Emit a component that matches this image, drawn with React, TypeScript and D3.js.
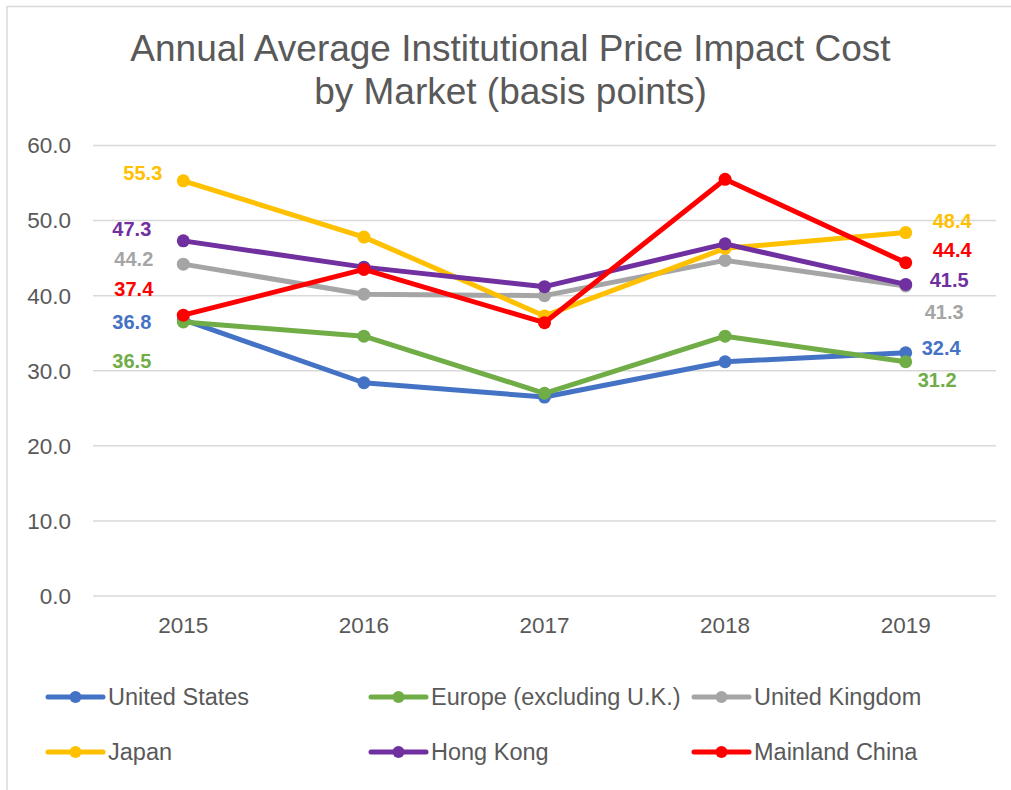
import React from "react";
import * as d3 from "d3";

const years = ["2015", "2016", "2017", "2018", "2019"];
const seriesNames = ["United States", "Europe (excluding U.K.)", "United Kingdom", "Japan", "Hong Kong", "Mainland China"];
const unitedStates = [36.8, 28.4, 26.5, 31.2, 32.4];
const europe = [36.5, 34.6, 27.0, 34.6, 31.2];
const unitedKingdom = [44.2, 40.2, 40.0, 44.7, 41.3];
const japan = [55.3, 47.8, 37.3, 46.3, 48.4];
const hongKong = [47.3, 43.8, 41.2, 46.9, 41.5];
const mainlandChina = [37.4, 43.5, 36.4, 55.5, 44.4];
const yTicks = [0, 10, 20, 30, 40, 50, 60];
const titleLines = ["Annual Average Institutional Price Impact Cost", "by Market (basis points)"];

const seriesValues = [unitedStates, europe, unitedKingdom, japan, hongKong, mainlandChina];
const colors = ["#4472C4", "#70AD47", "#A5A5A5", "#FFC000", "#7030A0", "#FF0000"];
// label offsets (style): [firstDx, firstDy, lastDx, lastDy]
const labelOffsets = [
  [-32, 2, 16, -5],
  [-32, 39, 12, 18],
  [-30, -5, 19, 26],
  [-21, -8, 27, -12],
  [-32, -12, 24, -4],
  [-30, -26, 27, -13],
];

const FONT = "'Liberation Sans', Arial, sans-serif";
const TEXT = "#595959";

export default function App() {
  const W = 1011, H = 790;
  const x = d3.scaleBand().domain(years).range([93, 996]);
  const y = d3.scaleLinear().domain([0, 60]).range([596, 145.5]);
  const cx = (yr: string) => (x(yr) as number) + x.bandwidth() / 2;
  const line = d3.line<number>().x((_, i) => cx(years[i])).y((v) => y(v));

  const legendCols = [48, 371, 694];
  const legendRows = [697, 752];

  return (
    <svg width={W} height={H} style={{ position: "absolute", left: 0, top: 0, fontFamily: FONT }}>
      <rect x={0} y={0} width={W} height={H} fill="#fff" />
      <rect x={7} y={6.5} width={1030} height={820} fill="#fff" stroke="#d9d9d9" strokeWidth={1.5} />
      {titleLines.map((t, i) => (
        <text key={t} x={510.5} y={61 + i * 43} textAnchor="middle" fontSize={37} fill={TEXT}>{t}</text>
      ))}
      {yTicks.map((t) => (
        <g key={t}>
          <line x1={93} x2={996} y1={y(t)} y2={y(t)} stroke="#d9d9d9" strokeWidth={1.5} />
          <text x={71} y={y(t)} dy="0.35em" textAnchor="end" fontSize={22.5} fill={TEXT}>{t.toFixed(1)}</text>
        </g>
      ))}
      {years.map((yr) => (
        <text key={yr} x={cx(yr)} y={633} textAnchor="middle" fontSize={22.5} fill={TEXT}>{yr}</text>
      ))}
      {seriesValues.map((vals, s) => (
        <g key={s}>
          <path d={line(vals) || ""} fill="none" stroke={colors[s]} strokeWidth={5} strokeLinejoin="round" strokeLinecap="round" />
          {vals.map((v, i) => (
            <circle key={i} cx={cx(years[i])} cy={y(v)} r={6.5} fill={colors[s]} />
          ))}
        </g>
      ))}
      {seriesValues.map((vals, s) => {
        const o = labelOffsets[s];
        const n = vals.length - 1;
        return (
          <g key={"l" + s} fontSize={20} fontWeight="bold" fill={colors[s]}>
            <text x={cx(years[0]) + o[0]} y={y(vals[0]) + o[1]} dy="0.35em" textAnchor="end">{vals[0].toFixed(1)}</text>
            <text x={cx(years[n]) + o[2]} y={y(vals[n]) + o[3]} dy="0.35em" textAnchor="start">{vals[n].toFixed(1)}</text>
          </g>
        );
      })}
      {seriesNames.map((name, i) => {
        const lx = legendCols[i % 3];
        const ly = legendRows[Math.floor(i / 3)];
        return (
          <g key={name}>
            <line x1={lx} x2={lx + 55} y1={ly} y2={ly} stroke={colors[i]} strokeWidth={5} strokeLinecap="round" />
            <circle cx={lx + 27.5} cy={ly} r={6} fill={colors[i]} />
            <text x={lx + 60} y={ly} dy="0.35em" fontSize={23.5} fill={TEXT}>{name}</text>
          </g>
        );
      })}
    </svg>
  );
}
